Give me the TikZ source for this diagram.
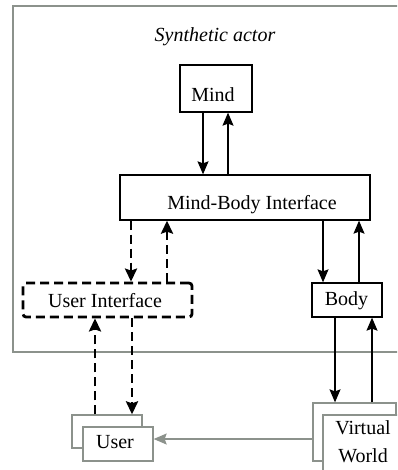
\documentclass[tikz,border=0pt]{standalone}
\usepackage{fontspec}
\setmainfont{Liberation Serif}
\usetikzlibrary{arrows.meta}
\definecolor{boxgray}{RGB}{140,146,140}
\tikzset{
  blk/.style={draw=black, line width=1.3pt, fill=white, inner sep=0pt},
  gbox/.style={draw=boxgray, line width=1.3pt, fill=white, inner sep=0pt},
  uibox/.style={draw=black, line width=2.8pt, dash pattern=on 9pt off 5pt, rounded corners=3pt, inner sep=0pt},
  arr/.style={draw=black, line width=1.3pt, -{Stealth[width=11pt,length=13pt,inset=2pt]}},
  darr/.style={draw=black, line width=2.8pt, dash pattern=on 9pt off 5pt, -{Stealth[width=12pt,length=13pt,inset=2pt]}},
  garr/.style={draw=boxgray, line width=1.3pt, -{Stealth[width=11pt,length=13pt,inset=2pt]}},
  lbl/.style={inner sep=0pt, font=\fontsize{20}{28}\selectfont, align=center, text height=14pt, text depth=4pt},
}
\begin{document}
\begin{tikzpicture}[x=1pt,y=-1pt]
\useasboundingbox (0,0) rectangle (397,470);
\clip (0,0) rectangle (397,470);
\fill[white] (0,0) rectangle (397,470);
% outer frame
\draw[boxgray, line width=1.4pt] (405,6) -- (13,6) -- (13,352) -- (405,352);
\node[lbl, font=\fontsize{20}{28}\selectfont\itshape] (title) at (215,37) {Synthetic actor};
% boxes
\node[blk, minimum width=72pt, minimum height=47pt] (mind) at (216,88.5) {};
\node[lbl] (mindtext) at (213,97) {Mind};
\node[blk, minimum width=250pt, minimum height=45pt] (mbi) at (245,197.5) {};
\node[lbl] (mbitext) at (252,204) {Mind-Body Interface};
\node[uibox, minimum width=169pt, minimum height=34pt] (ui) at (107.5,300) {};
\node[lbl] (uitext) at (105,302) {User Interface};
\node[blk, minimum width=70pt, minimum height=34pt] (body) at (347,300) {};
\node[lbl] (bodytext) at (346.5,300.5) {Body};
% user boxes
\node[gbox, minimum width=70pt, minimum height=33pt] (userback) at (107,431.5) {};
\node[gbox, minimum width=70pt, minimum height=34pt] (user) at (118,444) {};
\node[lbl] (usertext) at (115,443) {User};
% virtual world boxes
\node[gbox, minimum width=83pt, minimum height=58pt] (vwback) at (354.5,432) {};
\node[gbox, minimum width=80pt, minimum height=70pt] (vw) at (363,450) {};
\node[inner sep=0pt, font=\fontsize{20}{28}\selectfont, align=center] (vwtext) at (363,442) {Virtual\\World};
% x positions
\coordinate (xa) at (203,0);
\coordinate (xb) at (228,0);
\coordinate (xc) at (131,0);
\coordinate (xd) at (167,0);
\coordinate (xe) at (323,0);
\coordinate (xf) at (359,0);
\coordinate (xg) at (335,0);
\coordinate (xh) at (372,0);
\coordinate (xi) at (95,0);
\coordinate (xj) at (132,0);
\coordinate (yg) at (0,439);
% connectors
\draw[arr] (mind.south -| xa) -- (mbi.north -| xa);
\draw[arr] (mbi.north -| xb) -- (mind.south -| xb);
\draw[darr] (mbi.south -| xc) -- (ui.north -| xc);
\draw[darr] (ui.north -| xd) -- (mbi.south -| xd);
\draw[arr] (mbi.south -| xe) -- (body.north -| xe);
\draw[arr] (body.north -| xf) -- (mbi.south -| xf);
\draw[arr] (body.south -| xg) -- (vwback.north -| xg);
\draw[arr] (vwback.north -| xh) -- (body.south -| xh);
\draw[darr] (userback.north -| xi) -- (ui.south -| xi);
\draw[darr] (ui.south -| xj) -- (userback.north -| xj);
\draw[garr] (vwback.west |- yg) -- (user.east |- yg);
\end{tikzpicture}
\end{document}
